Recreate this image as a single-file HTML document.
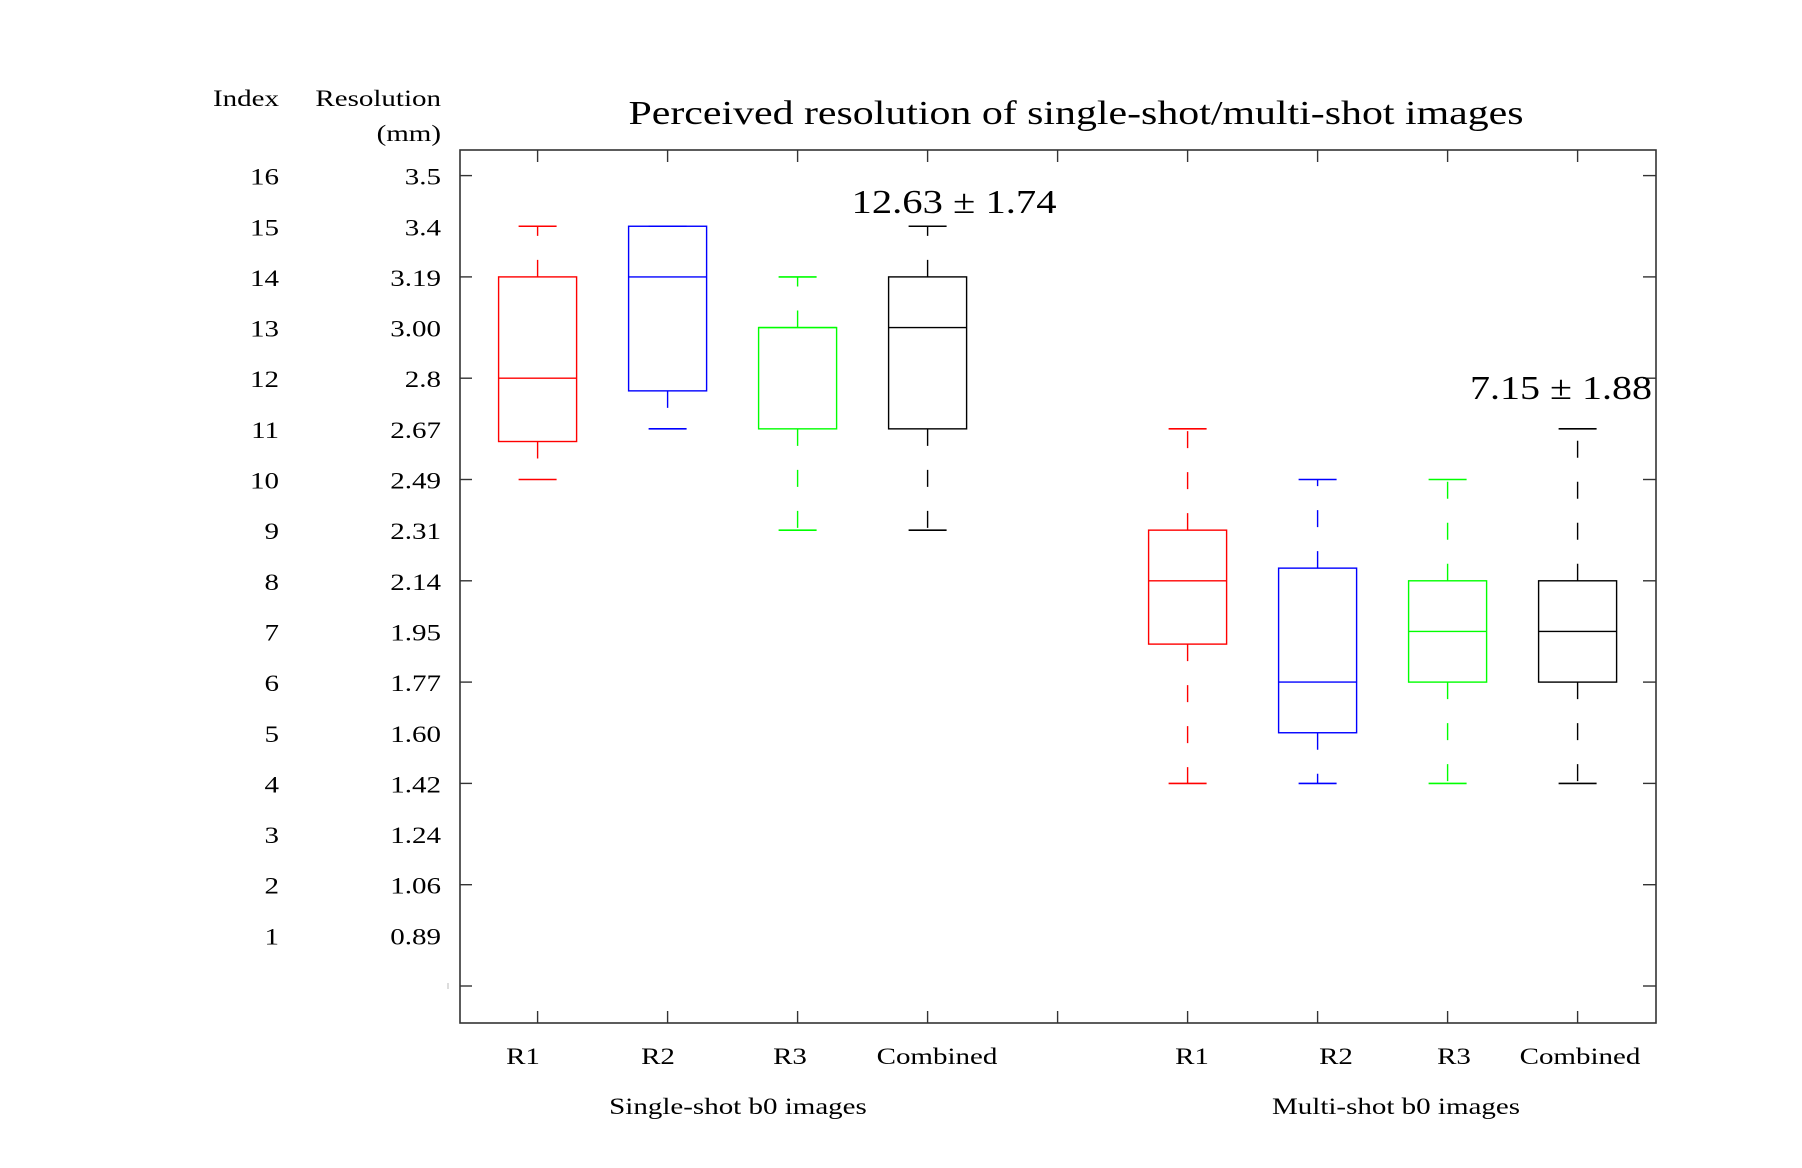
<!DOCTYPE html>
<html><head><meta charset="utf-8"><style>
html,body{margin:0;padding:0;background:#fff;}
svg{display:block;font-family:"Liberation Serif",serif;}
</style></head><body>
<svg id="chart" width="1802" height="1168" viewBox="0 0 1802 1168" xmlns="http://www.w3.org/2000/svg">
<rect x="0" y="0" width="1802" height="1168" fill="#fff"/>
</svg>
<script>
// data
const groupNames = ["R1","R2","R3","Combined","R1","R2","R3","Combined"];
const boxColors = ["#ff0000","#0000ff","#00ff00","#000000","#ff0000","#0000ff","#00ff00","#000000"];
const whiskerLow = [10, 11, 9, 9, 4, 4, 4, 4];
const q1 = [10.75, 11.75, 11, 11, 6.75, 5, 6, 6];
const medians = [12, 14, 13, 13, 8, 6, 7, 7];
const q3 = [14, 15, 13, 14, 9, 8.25, 8, 8];
const whiskerHigh = [15, 15, 14, 15, 11, 10, 10, 11];
const indexTicks = [16,15,14,13,12,11,10,9,8,7,6,5,4,3,2,1];
const resolutionLabels = ["3.5","3.4","3.19","3.00","2.8","2.67","2.49","2.31","2.14","1.95","1.77","1.60","1.42","1.24","1.06","0.89"];
const annotations = ["12.63 \u00b1 1.74","7.15 \u00b1 1.88"];

const NS="http://www.w3.org/2000/svg";
const svg=document.getElementById('chart');
const L=460, R=1656, T=150, B=1023;
const yOf = v => 986 - v*50.65;
const xOf = i => 537.6 + (i<4 ? i : i+1)*130;
const labelX = [523,658,790,937,1192,1336,1454,1580];

function mk(tag, attrs, parent){const e=document.createElementNS(NS,tag);for(const k in attrs)e.setAttribute(k,attrs[k]);(parent||svg).appendChild(e);return e;}
function txt(s,x,y,size,anchor,sy,extra){
  const g=mk('g',{transform:`translate(${x},${y}) scale(1,${sy})`});
  const t=mk('text',Object.assign({x:0,y:0,'font-size':size,'text-anchor':anchor,fill:'#000'},extra||{}),g);
  t.textContent=s;return t;
}

const frame=mk('rect',{x:L,y:T,width:R-L,height:B-T,fill:'none',stroke:'#333','stroke-width':1.6});



for(let v=0; v<=16; v+=2){
  const y=yOf(v);
  const a=mk('line',{x1:L,x2:L+12,y1:y,y2:y,stroke:'#333','stroke-width':1.4});
  
  
  const b=mk('line',{x1:R-13,x2:R,y1:y,y2:y,stroke:'#333','stroke-width':1.4});
  
  
}
const stray=mk('line',{x1:448,x2:448,y1:yOf(0)-3,y2:yOf(0)+3,stroke:'#bbb','stroke-width':1});



for(let i=0;i<9;i++){
  const x=537.6+i*130;
  const a=mk('line',{x1:x,x2:x,y1:T,y2:T+12,stroke:'#333','stroke-width':1.4});
  
  
  const b=mk('line',{x1:x,x2:x,y1:B-12,y2:B,stroke:'#333','stroke-width':1.4});
  
  
}

let t;
t=txt('Index',279,106,29,'end',0.8);


t=txt('Resolution',441,106,29,'end',0.8);


t=txt('(mm)',441,141,29,'end',0.8);


indexTicks.forEach((v,i)=>{
  const y=yOf(v)+9;
  const a=txt(String(v),279,y,29,'end',0.8);
  
  
  const b=txt(resolutionLabels[i],441,y,29,'end',0.8);
  
  
});

t=txt('Perceived resolution of single-shot/multi-shot images',1076,124,40,'middle',0.85,{textLength:895,lengthAdjust:'spacingAndGlyphs'});



groupNames.forEach((n,i)=>{
  const a=txt(n,labelX[i],1064,29,'middle',0.8);
  
  
});
t=txt('Single-shot b0 images',738,1114,29,'middle',0.8);


t=txt('Multi-shot b0 images',1396,1114,29,'middle',0.8);



t=txt(annotations[0],954,213,40,'middle',0.85,{textLength:205,lengthAdjust:'spacingAndGlyphs'});


t=txt(annotations[1],1561,399,40,'middle',0.85,{textLength:182,lengthAdjust:'spacingAndGlyphs'});



for(let i=0;i<groupNames.length;i++){
  const c=boxColors[i], x=xOf(i);
  const g=mk('g',{});
  
  
  const wl=mk('line',{x1:x,x2:x,y1:yOf(q1[i]),y2:yOf(whiskerLow[i]),stroke:c,'stroke-width':1.4,'stroke-dasharray':'17,24'},g);
  
  
  const wh=mk('line',{x1:x,x2:x,y1:yOf(q3[i]),y2:yOf(whiskerHigh[i]),stroke:c,'stroke-width':1.4,'stroke-dasharray':'17,24'},g);
  
  
  const cl=mk('line',{x1:x-19,x2:x+19,y1:yOf(whiskerLow[i]),y2:yOf(whiskerLow[i]),stroke:c,'stroke-width':1.6},g);
  
  
  const ch=mk('line',{x1:x-19,x2:x+19,y1:yOf(whiskerHigh[i]),y2:yOf(whiskerHigh[i]),stroke:c,'stroke-width':1.6},g);
  
  
  const bx=mk('rect',{x:x-39,y:yOf(q3[i]),width:78,height:yOf(q1[i])-yOf(q3[i]),fill:'none',stroke:c,'stroke-width':1.4},g);
  
  
  const md=mk('line',{x1:x-39,x2:x+39,y1:yOf(medians[i]),y2:yOf(medians[i]),stroke:c,'stroke-width':1.4},g);
  
  
}
</script>
</body></html>
